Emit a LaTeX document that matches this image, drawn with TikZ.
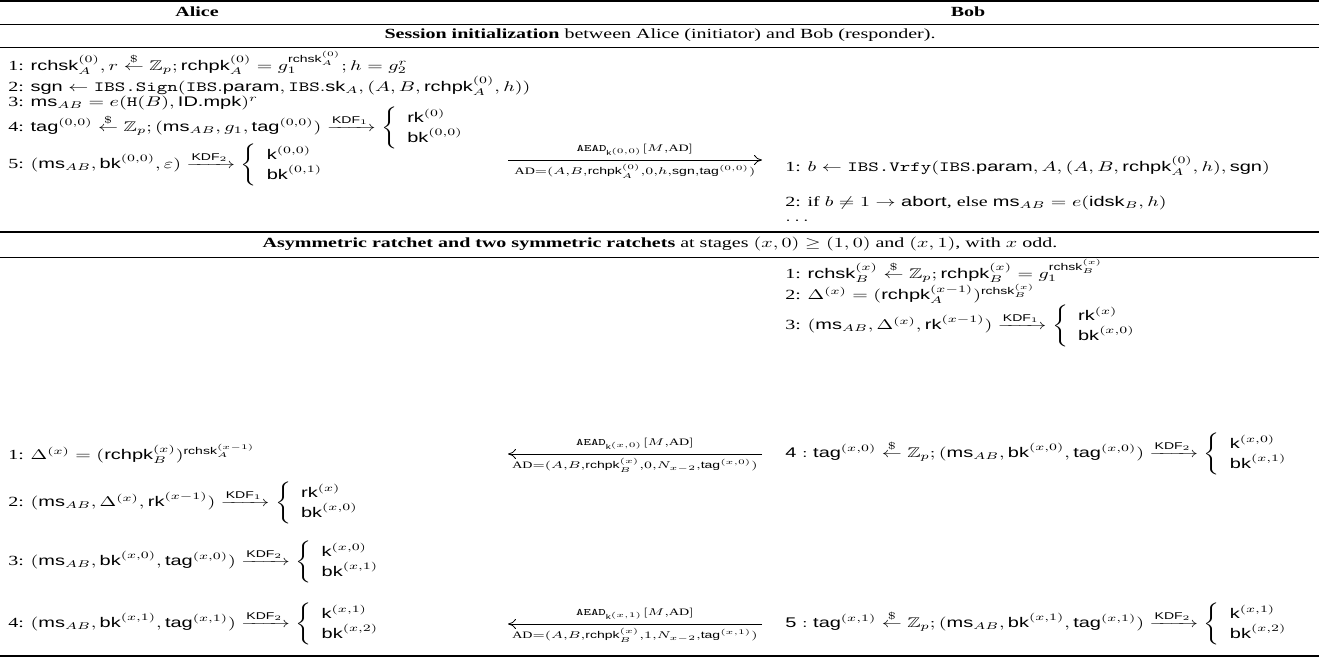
\documentclass[tikz,border=0pt]{standalone}
\usepackage{amsmath,amssymb}
\usepackage{graphicx}
\usepackage{fontspec}
\setmainfont{Liberation Serif}
\setsansfont{Liberation Sans}
\usetikzlibrary{arrows.meta,positioning}

\newcommand{\Sf}[1]{\textsf{#1}}
\newcommand{\Tt}[1]{\texttt{#1}}
\newcommand{\rnd}{\mathrel{\overset{\$}{\leftarrow}}}
\newcommand{\kdf}[1]{\xrightarrow{\Sf{KDF}_{#1}}}
\newcommand{\keys}[2]{\left\{\begin{array}{l}#1\\#2\end{array}\right.}
\newcommand{\cm}{{,}}
% the table is set flat: every text is squeezed in height
\newcommand{\sq}[1]{\scalebox{1}[0.7]{#1}}

\begin{document}
\begin{tikzpicture}[x=0.5pt,y=-0.5pt,
  row/.style={anchor=west, inner sep=0pt},
  hdr/.style={inner sep=0pt},
  rule/.style={line width=0.4pt},
  heavy/.style={line width=0.8pt},
  msg/.style={-{Computer Modern Rightarrow[length=4pt,width=5pt]}, line width=0.4pt},
  lbl/.style={font=\scriptsize, inner sep=2pt}
]
\useasboundingbox (0,0) rectangle (1319,662);

% table rules
\draw[heavy] (0,1) -- (1319,1);
\draw[rule]  (0,24) -- (1319,24);
\draw[rule]  (0,47) -- (1319,47);
\draw[heavy] (0,232) -- (1319,232);
\draw[rule]  (0,257) -- (1319,257);
\draw[heavy] (0,656) -- (1319,656);

% headers
\node[hdr] (alice) at (197,12) {\sq{\textbf{Alice}}};
\node[hdr] (bob)   at (968,12) {\sq{\textbf{Bob}}};
\node[hdr] (init)  at (660,35)
  {\sq{\textbf{Session initialization} between Alice (initiator) and Bob (responder).}};
\node[hdr] (asym)  at (660,244)
  {\sq{\textbf{Asymmetric ratchet and two symmetric ratchets} at stages $(x,0)\geq(1,0)$ and $(x,1)$, with $x$ odd.}};

% session initialization: Alice
\node[row] (a1) at (8,63)
  {\sq{1: $\Sf{rchsk}_A^{(0)}, r \rnd \mathbb{Z}_p; \Sf{rchpk}_A^{(0)} = g_1^{\Sf{rchsk}_A^{(0)}}; h = g_2^r$}};
\node[row] (a2) at (8,86)
  {\sq{2: $\Sf{sgn} \leftarrow \Tt{IBS.Sign}(\Tt{IBS}.\Sf{param}, \Tt{IBS}.\Sf{sk}_A, (A, B, \Sf{rchpk}_A^{(0)}, h))$}};
\node[row] (a3) at (8,103)
  {\sq{3: $\Sf{ms}_{AB} = e(\Tt{H}(B), \Sf{ID.mpk})^r$}};
\node[row] (a4) at (8,128)
  {\sq{4: $\Sf{tag}^{(0,0)} \rnd \mathbb{Z}_p; (\Sf{ms}_{AB}, g_1, \Sf{tag}^{(0,0)}) \kdf{1} \keys{\Sf{rk}^{(0)}}{\Sf{bk}^{(0,0)}}$}};
\node[row] (a5) at (8,165)
  {\sq{5: $(\Sf{ms}_{AB}, \Sf{bk}^{(0,0)}, \varepsilon) \kdf{2} \keys{\Sf{k}^{(0,0)}}{\Sf{bk}^{(0,1)}}$}};

% session initialization: message
\coordinate (m1a) at (508,160);
\coordinate (m1b) at (762,160);
\draw[msg] (m1a) -- (m1b)
  node[midway, above, lbl] {\sq{$\Tt{AEAD}_{\Sf{k}^{(0,0)}}[M\cm\mathrm{AD}]$}}
  node[midway, below, lbl] {\sq{AD${=}(A\cm B\cm\Sf{rchpk}_A^{(0)}\cm0\cm h\cm\Sf{sgn}\cm\Sf{tag}^{(0,0)})$}};

% session initialization: Bob
\node[row] (b1) at (785,166)
  {\sq{1: $b \leftarrow \Tt{IBS.Vrfy}(\Tt{IBS}.\Sf{param}, A, (A, B, \Sf{rchpk}_A^{(0)}, h), \Sf{sgn})$}};
\node[row] (b2) at (785,203)
  {\sq{2: if $b \neq 1 \rightarrow \Sf{abort}$, else $\Sf{ms}_{AB} = e(\Sf{idsk}_B, h)$}};
\node[row] (bdots) at (785,221) {\sq{$\dots$}};

% ratchets: Bob
\node[row] (rb1) at (785,271)
  {\sq{1: $\Sf{rchsk}_B^{(x)} \rnd \mathbb{Z}_p; \Sf{rchpk}_B^{(x)} = g_1^{\Sf{rchsk}_B^{(x)}}$}};
\node[row] (rb2) at (785,294)
  {\sq{2: $\Delta^{(x)} = (\Sf{rchpk}_A^{(x-1)})^{\Sf{rchsk}_B^{(x)}}$}};
\node[row] (rb3) at (785,326)
  {\sq{3: $(\Sf{ms}_{AB}, \Delta^{(x)}, \Sf{rk}^{(x-1)}) \kdf{1} \keys{\Sf{rk}^{(x)}}{\Sf{bk}^{(x,0)}}$}};
\node[row] (rb4) at (785,454)
  {\sq{$\Sf{4} : \Sf{tag}^{(x,0)} \rnd \mathbb{Z}_p; (\Sf{ms}_{AB}, \Sf{bk}^{(x,0)}, \Sf{tag}^{(x,0)}) \kdf{2} \keys{\Sf{k}^{(x,0)}}{\Sf{bk}^{(x,1)}}$}};
\node[row] (rb5) at (785,624)
  {\sq{$\Sf{5} : \Sf{tag}^{(x,1)} \rnd \mathbb{Z}_p; (\Sf{ms}_{AB}, \Sf{bk}^{(x,1)}, \Sf{tag}^{(x,1)}) \kdf{2} \keys{\Sf{k}^{(x,1)}}{\Sf{bk}^{(x,2)}}$}};

% ratchets: Alice
\node[row] (ra1) at (8,454)
  {\sq{1: $\Delta^{(x)} = (\Sf{rchpk}_B^{(x)})^{\Sf{rchsk}_A^{(x-1)}}$}};
\node[row] (ra2) at (8,503)
  {\sq{2: $(\Sf{ms}_{AB}, \Delta^{(x)}, \Sf{rk}^{(x-1)}) \kdf{1} \keys{\Sf{rk}^{(x)}}{\Sf{bk}^{(x,0)}}$}};
\node[row] (ra3) at (8,562)
  {\sq{3: $(\Sf{ms}_{AB}, \Sf{bk}^{(x,0)}, \Sf{tag}^{(x,0)}) \kdf{2} \keys{\Sf{k}^{(x,0)}}{\Sf{bk}^{(x,1)}}$}};
\node[row] (ra4) at (8,624)
  {\sq{4: $(\Sf{ms}_{AB}, \Sf{bk}^{(x,1)}, \Sf{tag}^{(x,1)}) \kdf{2} \keys{\Sf{k}^{(x,1)}}{\Sf{bk}^{(x,2)}}$}};

% ratchets: messages from Bob to Alice
\coordinate (m2a) at (762,454);
\coordinate (m2b) at (508,454);
\draw[msg] (m2a) -- (m2b)
  node[midway, above, lbl] {\sq{$\Tt{AEAD}_{\Sf{k}^{(x,0)}}[M\cm\mathrm{AD}]$}}
  node[midway, below, lbl] {\sq{AD${=}(A\cm B\cm\Sf{rchpk}_B^{(x)}\cm0\cm N_{x-2}\cm\Sf{tag}^{(x,0)})$}};
\coordinate (m3a) at (762,624);
\coordinate (m3b) at (508,624);
\draw[msg] (m3a) -- (m3b)
  node[midway, above, lbl] {\sq{$\Tt{AEAD}_{\Sf{k}^{(x,1)}}[M\cm\mathrm{AD}]$}}
  node[midway, below, lbl] {\sq{AD${=}(A\cm B\cm\Sf{rchpk}_B^{(x)}\cm1\cm N_{x-2}\cm\Sf{tag}^{(x,1)})$}};
\end{tikzpicture}
\end{document}
